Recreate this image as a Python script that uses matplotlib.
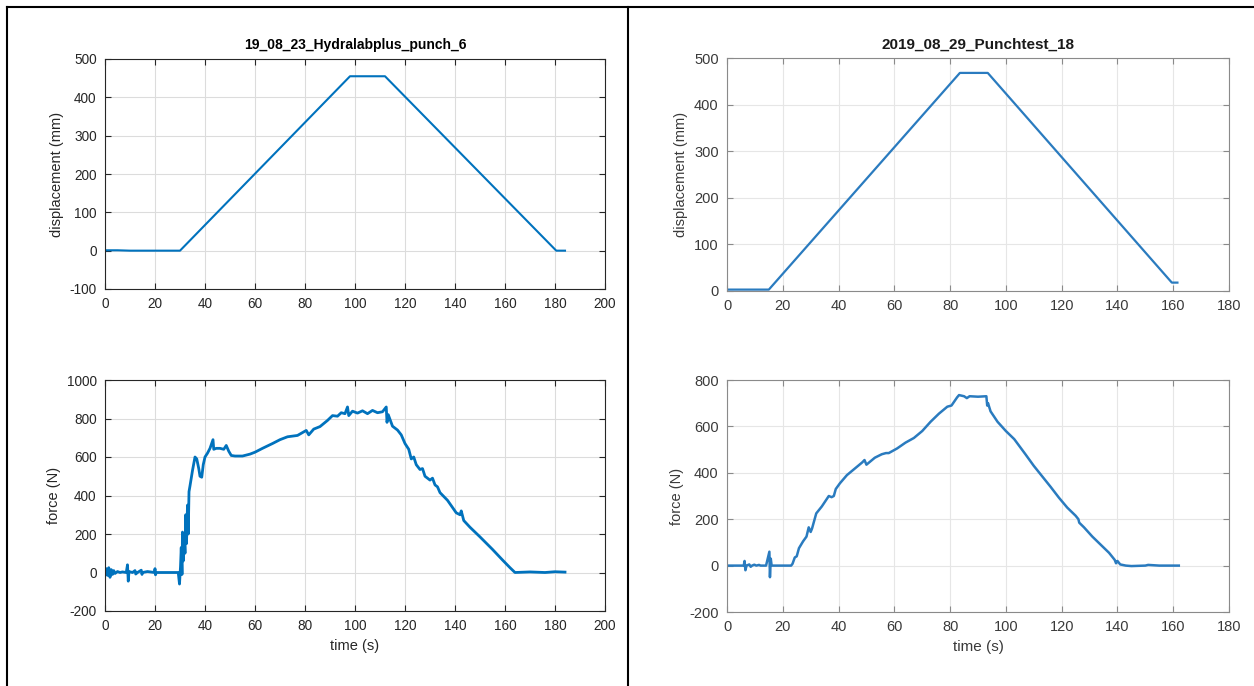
import matplotlib
matplotlib.use("Agg")
import matplotlib.pyplot as plt
from matplotlib.lines import Line2D

plt.rcParams["font.family"] = ["Liberation Sans", "DejaVu Sans"]
plt.rcParams["axes.unicode_minus"] = False

# ── left test: 19_08_23_Hydralabplus_punch_6 ─────────────────────────────────
left_title = "19_08_23_Hydralabplus_punch_6"
left_disp_t = [0, 5, 10, 20, 30, 98, 112, 180.5, 184]
left_disp = [1, 1, 0, 0, 0, 455, 455, 0, 0]

left_force_t = [0, 0.5, 1, 1.5, 2, 2.5, 3, 3.5, 4, 5, 6, 7, 8.5, 9, 9.3, 9.6, 11, 12,
                12.3, 13, 14.5, 14.8, 15, 17, 19.8, 20, 20.2, 20.5, 25, 29.3, 29.8,
                30.2, 30.5, 30.8, 31, 31.3, 31.6, 32, 32.3, 32.6, 33, 33.3, 33.6, 34,
                35, 36, 36.7, 37.5, 38, 38.7, 39.3, 40, 41, 42, 43.2, 43.5, 44.5, 46,
                47.5, 48.5, 49.5, 50.5, 52, 55, 58, 60, 63, 67, 70, 73, 77, 80.5, 81.5,
                83.5, 86, 89, 91, 93, 94.5, 96, 97, 97.5, 99, 101, 103, 105, 107, 109,
                111, 112.5, 112.8, 113.3, 115, 117, 118.5, 120, 121.5, 122.5, 123.5,
                124.5, 126, 127, 128, 130, 131, 132, 133, 134, 137, 140.5, 142, 142.5,
                143.5, 146, 150, 155, 159, 162, 164, 170, 176, 180, 184]
left_force = [0, 20, -15, 25, -25, 15, -10, 10, -5, 5, 0, 3, 0, 40, -45, 5, 0, 10,
              -8, 0, 12, -10, 0, 5, 0, 20, -12, 0, 0, 0, -60,
              30, 130, -10, 210, 60, 200, 100, 300, 150, 350, 200, 420, 450,
              530, 600, 590, 540, 500, 495, 560, 600, 620, 645, 690, 640, 645, 645,
              640, 660, 630, 608, 605, 605, 615, 625, 645, 670, 690, 705, 712, 738, 715,
              745, 758, 790, 815, 812, 830, 825, 860, 815, 838, 828, 840, 825, 842, 830,
              835, 860, 780, 820, 760, 740, 715, 670, 640, 590, 600,
              560, 535, 540, 500, 480, 490, 455, 445, 415, 375, 310, 300, 320,
              270, 235, 185, 120, 65, 25, 0, 3, 0, 4, 2]

# ── right test: 2019_08_29_Punchtest_18 ──────────────────────────────────────
right_title = "2019_08_29_Punchtest_18"
right_disp_t = [0, 15, 83.5, 93.5, 159.5, 161.5]
right_disp = [3, 3, 468, 468, 18, 18]

right_force_t = [0, 6, 6.3, 6.6, 7, 8, 8.5, 9, 9.8, 10.5, 11.5, 12, 14, 15.2, 15.4,
                 15.7, 16, 18, 23, 23.5, 24.3, 25, 25.8, 27.3, 28.5, 29.3, 30, 30.5,
                 32, 34, 36.5, 37.5, 38.3, 39, 40.5, 43, 45, 47, 48.5, 49.3, 50, 51,
                 53, 55.5, 57, 58, 61, 64, 67, 70, 73, 76, 79, 80.5, 82.5, 83.2, 85,
                 86, 87, 90, 93, 93.3, 93.6, 94.5, 97, 100, 103, 107, 110, 113, 116,
                 119, 122, 125, 126, 126.3, 128, 131, 134, 137, 139, 139.5, 140, 141,
                 143, 145, 150, 151, 155, 162]
right_force = [0, 0, 20, -20, 0, 5, -5, 0, 4, 0, 3, 0, 0, 60, -50,
               30, 0, 0, 0, 8, 35, 40, 75, 105, 125, 165, 145, 160,
               225, 255, 300, 295, 300, 330, 355, 390, 410, 430, 445, 455, 435, 445,
               465, 480, 485, 485, 505, 530, 550, 580, 620, 655, 685, 690, 725, 735, 730,
               722, 730, 728, 730, 690, 700, 665, 620, 580, 545, 480, 430, 385, 340,
               293, 250, 215, 200, 185, 165, 125, 90, 55, 25, 10, 20, 5,
               0, -2, 0, 3, 0, 0]

W, H = 1254, 686


def px_axes(fig, x0, x1, ytop, ybot):
    return fig.add_axes([x0 / W, (H - ybot) / H, (x1 - x0) / W, (ybot - ytop) / H])


def matlab_style(ax, edge, text, grid, fs):
    for s in ax.spines.values():
        s.set_edgecolor(edge)
        s.set_linewidth(0.8)
    ax.tick_params(direction="in", top=True, right=True, length=4, width=0.8,
                   colors=edge, labelcolor=text, labelsize=fs, pad=6)
    ax.grid(True, color=grid, linewidth=0.8)
    ax.set_axisbelow(True)


fig = plt.figure(figsize=(W / 100, H / 100), dpi=100)
fig.patch.set_facecolor("white")

# left column
LC = "#0072BD"
ax1 = px_axes(fig, 105, 605, 59, 289)
ax1.plot(left_disp_t, left_disp, color=LC, linewidth=1.5)
ax1.set_xlim(0, 200)
ax1.set_ylim(-100, 500)
ax1.set_xticks(range(0, 201, 20))
ax1.set_yticks(range(-100, 501, 100))
ax1.set_ylabel("displacement (mm)", fontsize=10.5, color="#262626")
ax1.set_title(left_title, fontsize=10, fontweight="bold", pad=7)
matlab_style(ax1, "#262626", "#262626", "#dcdcdc", 9.8)

ax2 = px_axes(fig, 105, 605, 380, 611)
ax2.plot(left_force_t, left_force, color=LC, linewidth=2.0)
ax2.set_xlim(0, 200)
ax2.set_ylim(-200, 1000)
ax2.set_xticks(range(0, 201, 20))
ax2.set_yticks(range(-200, 1001, 200))
ax2.set_ylabel("force (N)", fontsize=10.5, color="#262626")
ax2.set_xlabel("time (s)", fontsize=10.5, color="#262626")
matlab_style(ax2, "#262626", "#262626", "#dcdcdc", 9.8)

# right column
RC = "#2a7bbf"
ax3 = px_axes(fig, 727, 1229, 58, 291)
ax3.plot(right_disp_t, right_disp, color=RC, linewidth=1.6)
ax3.set_xlim(0, 180)
ax3.set_ylim(0, 500)
ax3.set_xticks(range(0, 181, 20))
ax3.set_yticks(range(0, 501, 100))
ax3.set_ylabel("displacement (mm)", fontsize=10.5, color="#3a3a3a")
ax3.set_title(right_title, fontsize=11, fontweight="bold", pad=7, color="#1a1a1a")
matlab_style(ax3, "#8a8a8a", "#3a3a3a", "#e6e6e6", 10.5)

ax4 = px_axes(fig, 727, 1229, 380, 612)
ax4.plot(right_force_t, right_force, color=RC, linewidth=1.8)
ax4.set_xlim(0, 180)
ax4.set_ylim(-200, 800)
ax4.set_xticks(range(0, 181, 20))
ax4.set_yticks(range(-200, 801, 200))
ax4.set_ylabel("force (N)", fontsize=10.5, color="#3a3a3a")
ax4.set_xlabel("time (s)", fontsize=11, color="#3a3a3a")
matlab_style(ax4, "#8a8a8a", "#3a3a3a", "#e6e6e6", 10.5)

# table borders around the two pictures
def fig_line(xs, ys, lw=1.5):
    fig.add_artist(Line2D([x / W for x in xs], [1 - y / H for y in ys],
                          color="black", linewidth=lw))

fig_line([7, 1254], [7, 7])
fig_line([7, 7], [7, 686])
fig_line([628, 628], [7, 686])

fig.savefig("out.png", dpi=100, facecolor="white")
